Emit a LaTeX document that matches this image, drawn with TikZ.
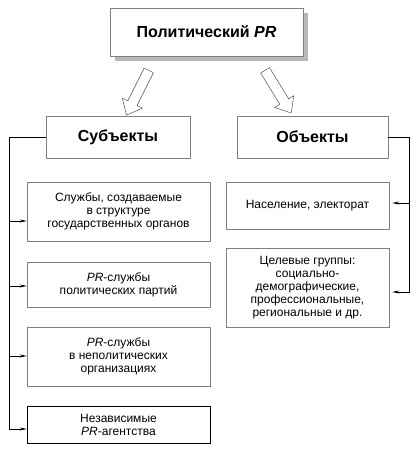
\documentclass[tikz,border=0pt]{standalone}
\usepackage{fontspec}
\setmainfont{Liberation Sans}
\usetikzlibrary{shapes.arrows,shadows,arrows.meta}
\tikzstyle{box} = [draw=black!50, fill=white, align=center, inner sep=2pt, font={\fontsize{12}{13}\selectfont}]
\tikzstyle{head} = [box, font={\fontsize{16}{18}\selectfont\bfseries}]
\tikzstyle{shade} = [general shadow={fill=black!28, shadow xshift=5pt, shadow yshift=-5pt}]
\tikzstyle{bigarrow} = [draw=black!80, fill=white, single arrow, inner sep=5pt, minimum height=50pt, single arrow head extend=6pt, single arrow tip angle=80]
\tikzstyle{conn} = [black, line width=0.7pt, -{Stealth[length=7pt,width=3pt]}]

\begin{document}
\begin{tikzpicture}[x=1pt,y=-1pt]
        \useasboundingbox (0,0) rectangle (420,458);
        \node[head,shade,minimum width=193,minimum height=48](pr) at (206.5,32){Политический \textit{PR}};
        \node[head,minimum width=144,minimum height=42](subj) at (118,137){Субъекты};
        \node[head,minimum width=151,minimum height=42](obj) at (312.5,137){Объекты};
        \node[bigarrow,rotate=-116.6](al) at (139,90){};
        \node[bigarrow,rotate=-58.5](ar) at (276.5,89){};
        \node[box,minimum width=183,minimum height=59](s1) at (118.5,211.5){Службы, создаваемые\\в структуре\\государственных органов};
        \node[box,minimum width=183,minimum height=45](s2) at (118.5,284.5){\textit{PR}-службы\\политических партий};
        \node[box,minimum width=183,minimum height=59](s3) at (118.5,356.5){\textit{PR}-службы\\в неполитических\\организациях};
        \node[box,draw=black,minimum width=183,minimum height=37](s4) at (118.5,424.5){Независимые\\\textit{PR}-агентства};
        \node[box,minimum width=163,minimum height=47](o1) at (307.5,205.5){Население, электорат};
        \node[box,minimum width=163,minimum height=79](o2) at (307.5,287.5){Целевые группы:\\социально-\\демографические,\\профессиональные,\\региональные и др.};
        \coordinate (a1) at (9,221);
        \coordinate (a2) at (9,286);
        \coordinate (a3) at (9,356);
        \coordinate (a4) at (9,429);
        \coordinate (b1) at (409,203);
        \coordinate (b2) at (409,292);
        \draw[conn](subj.west)-|(a4)--(a4-|s4.west);
        \draw[conn](a1)--(a1-|s1.west);
        \draw[conn](a2)--(a2-|s2.west);
        \draw[conn](a3)--(a3-|s3.west);
        \draw[conn,shorten >=3pt](obj.east)-|(b2)--(b2-|o2.east);
        \draw[conn,shorten >=3pt](b1)--(b1-|o1.east);
      \end{tikzpicture}
\end{document}
